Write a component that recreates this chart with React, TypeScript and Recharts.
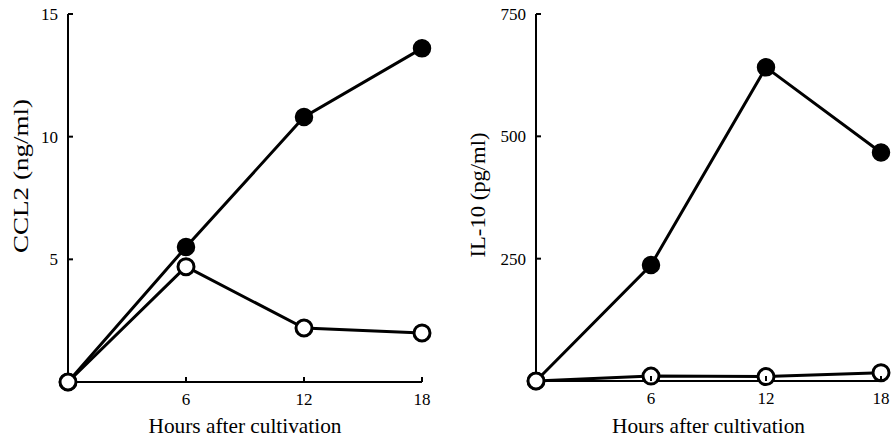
import React from 'react';
import { LineChart, Line, XAxis, YAxis } from 'recharts';

const FONT = '"Liberation Serif", "Times New Roman", serif';

const hours = [0, 6, 12, 18];
const hourTicks = [6, 12, 18];

const ccl2Stimulated = [0, 5.5, 10.8, 13.6];
const ccl2Control = [0, 4.7, 2.2, 2.0];
const ccl2Ticks = [5, 10, 15];

const il10Stimulated = [0, 237, 641, 467];
const il10Control = [0, 10, 9, 17];
const il10Ticks = [250, 500, 750];

const XTick = (props: any) => {
  const { x, y, payload } = props;
  return (
    <g>
      <line x1={x} x2={x} y1={y} y2={y - 5} stroke="#000" strokeWidth={2} />
      <text x={x} y={y + 23} textAnchor="middle" fontSize={17} fontFamily={FONT} fill="#000">
        {payload.value}
      </text>
    </g>
  );
};

const YTick = (props: any) => {
  const { x, y, payload } = props;
  return (
    <g>
      <line x1={x} x2={x + 5} y1={y} y2={y} stroke="#000" strokeWidth={2} />
      <text x={x - 10} y={y + 6} textAnchor="end" fontSize={17} fontFamily={FONT} fill="#000">
        {payload.value}
      </text>
    </g>
  );
};

type PanelProps = {
  width: number;
  yWidth: number;
  right: number;
  xHeight: number;
  stim: number[];
  ctrl: number[];
  yMax: number;
  yTicks: number[];
  yTitle: string;
  yTitleX: number;
  yTitleY: number;
  yTitleLen: number;
};

const Panel: React.FC<PanelProps> = (p) => {
  const data = hours.map((h, i) => ({ h, stim: p.stim[i], ctrl: p.ctrl[i] }));
  const plotW = p.width - p.yWidth - p.right;
  const xTitleX = p.yWidth + plotW / 2;

  return (
    <LineChart
      width={p.width}
      height={440}
      data={data}
      margin={{ top: 14, right: p.right, bottom: 0, left: 0 }}
    >
      <XAxis
        type="number"
        dataKey="h"
        domain={[0, 18]}
        ticks={hourTicks}
        height={p.xHeight}
        tickSize={0}
        tickMargin={0}
        tickLine={false}
        tick={<XTick />}
        axisLine={{ stroke: '#000', strokeWidth: 2 }}
        label={{
          content: () => (
            <text
              x={xTitleX}
              y={433}
              textAnchor="middle"
              fontSize={21}
              fontFamily={FONT}
              fill="#000"
              textLength={193}
              lengthAdjust="spacingAndGlyphs"
            >
              Hours after cultivation
            </text>
          ),
        }}
      />
      <YAxis
        type="number"
        domain={[0, p.yMax]}
        ticks={p.yTicks}
        width={p.yWidth}
        tickSize={0}
        tickMargin={0}
        tickLine={false}
        tick={<YTick />}
        axisLine={{ stroke: '#000', strokeWidth: 2 }}
        label={{
          content: () => (
            <text
              x={p.yTitleX}
              y={p.yTitleY}
              transform={`rotate(-90 ${p.yTitleX} ${p.yTitleY})`}
              textAnchor="middle"
              fontSize={22}
              fontFamily={FONT}
              fill="#000"
              textLength={p.yTitleLen}
              lengthAdjust="spacingAndGlyphs"
            >
              {p.yTitle}
            </text>
          ),
        }}
      />
      <Line
        dataKey="stim"
        stroke="#000"
        strokeWidth={3}
        dot={{ r: 8.5, fill: '#000', stroke: '#000', strokeWidth: 1.5 }}
        isAnimationActive={false}
      />
      <Line
        dataKey="ctrl"
        stroke="#000"
        strokeWidth={3}
        dot={{ r: 8, fill: '#fff', stroke: '#000', strokeWidth: 3 }}
        isAnimationActive={false}
      />
    </LineChart>
  );
};

export default function App() {
  return (
    <div
      style={{
        position: 'absolute',
        left: 0,
        top: 0,
        width: 893,
        height: 440,
        display: 'flex',
        background: '#fff',
      }}
    >
      <Panel
        width={450}
        yWidth={68}
        right={28}
        xHeight={58}
        stim={ccl2Stimulated}
        ctrl={ccl2Control}
        yMax={15}
        yTicks={ccl2Ticks}
        yTitle="CCL2 (ng/ml)"
        yTitleX={28}
        yTitleY={176}
        yTitleLen={154}
      />
      <Panel
        width={443}
        yWidth={86}
        right={12}
        xHeight={59}
        stim={il10Stimulated}
        ctrl={il10Control}
        yMax={750}
        yTicks={il10Ticks}
        yTitle="IL-10 (pg/ml)"
        yTitleX={35}
        yTitleY={195}
        yTitleLen={125}
      />
    </div>
  );
}
